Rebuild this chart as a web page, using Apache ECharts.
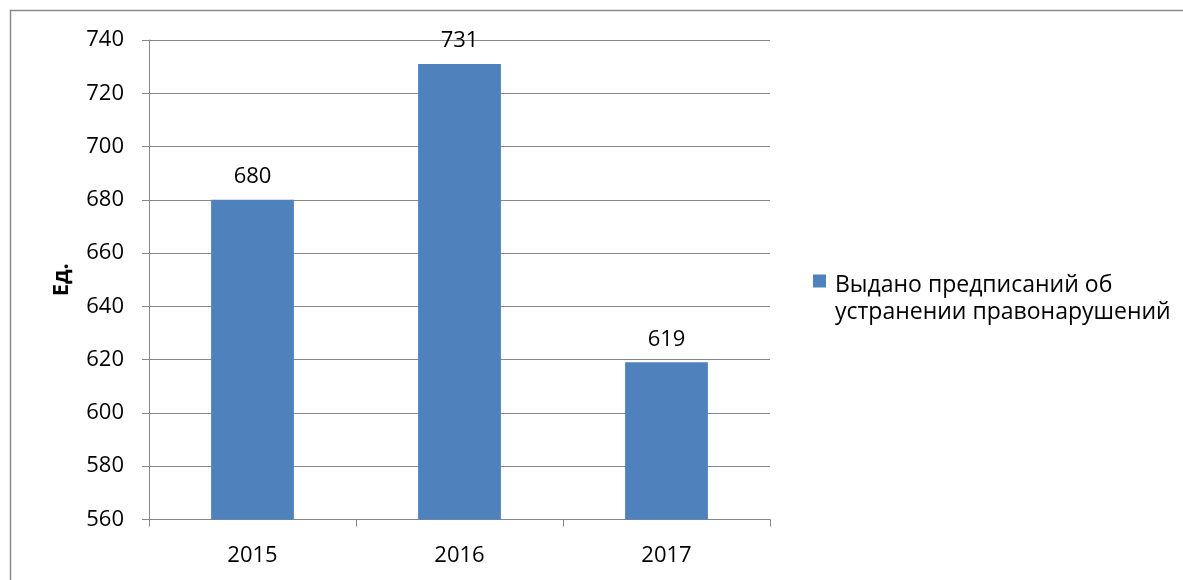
<!DOCTYPE html>
<html><head><meta charset="utf-8">
<script src="https://cdn.jsdelivr.net/npm/echarts@6/dist/echarts.min.js"></script>
<style>html,body{margin:0;padding:0;background:#fff}#c{width:1183px;height:580px}</style>
</head><body><div id="c"></div>
<script>
const categories = ['2015', '2016', '2017'];
const seriesName = 'Выдано предписаний об\nустранении правонарушений';
const values = [680, 731, 619];
const yMin = 560, yMax = 740, yStep = 20;
const yAxisName = 'Ед.';

const FONT = 'Open Sans';
const chart = echarts.init(document.getElementById('c'), null, {renderer: 'canvas'});
chart.setOption({
  animation: false,
  backgroundColor: '#fff',
  textStyle: {fontFamily: FONT},
  graphic: [{
    type: 'rect', silent: true, z: -1,
    shape: {x: 10.5, y: 10.5, width: 1400, height: 800},
    style: {fill: 'none', stroke: '#8a8a8a', lineWidth: 1.5}
  }],
  grid: {left: 149, top: 40, right: 413, bottom: 60.5, containLabel: false},
  legend: {
    left: 808, top: 267, orient: 'vertical', padding: 5,
    icon: 'path://M0,0H13V13H0Z M0,49L0.001,49',
    itemWidth: 13, itemHeight: 49, itemGap: 6,
    textStyle: {fontFamily: FONT, fontSize: 23, color: '#000', lineHeight: 27, padding: [0, 0, 0, 4]},
    data: [seriesName]
  },
  xAxis: {
    type: 'category', data: categories, boundaryGap: true,
    axisLine: {lineStyle: {color: '#868686', width: 1}},
    axisTick: {show: true, length: 7, alignWithLabel: false, lineStyle: {color: '#868686'}},
    axisLabel: {color: '#000', fontSize: 22, fontFamily: FONT, margin: 25}
  },
  yAxis: {
    type: 'value', min: yMin, max: yMax, interval: yStep,
    name: yAxisName, nameLocation: 'middle', nameGap: 76, nameRotate: 90,
    nameTextStyle: {color: '#000', fontSize: 22, fontWeight: 'bold', fontFamily: FONT},
    axisLine: {show: true, lineStyle: {color: '#868686'}},
    axisTick: {show: true, length: 7, lineStyle: {color: '#868686'}},
    splitLine: {show: true, lineStyle: {color: '#868686', width: 1}},
    axisLabel: {color: '#000', fontSize: 22, fontFamily: FONT, margin: 25}
  },
  series: [{
    name: seriesName, type: 'bar', data: values, barWidth: '40%',
    itemStyle: {color: '#4f81bd'},
    label: {show: true, position: 'top', distance: 12, color: '#000', fontSize: 22, fontFamily: FONT}
  }]
});
</script></body></html>
